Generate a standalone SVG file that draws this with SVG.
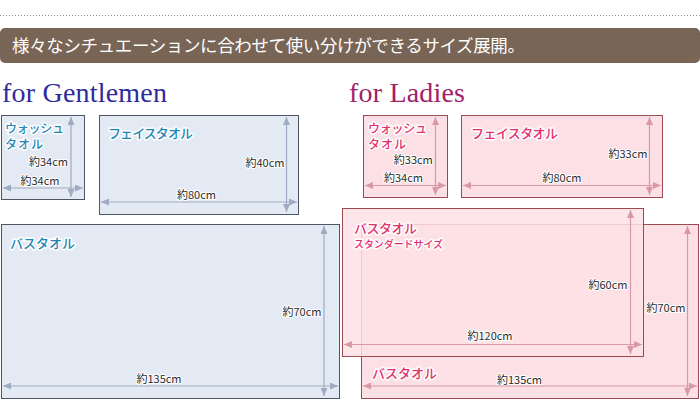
<svg xmlns="http://www.w3.org/2000/svg" width="700" height="400" viewBox="0 0 700 400">
<defs>
<style>
.banner-text{font-family:"Noto Sans CJK JP","Liberation Serif",serif;font-size:17.5px;fill:#ffffff}
.head{font-family:"Liberation Serif","DejaVu Serif",serif;font-size:28px}
.g-box{fill:#e4eaf3;stroke:#4d5566;stroke-width:1}
.l-box{fill:#fde0e5;stroke:#9c4a52;stroke-width:1}
.l-box-top{fill:#fde0e5;fill-opacity:0.85;stroke:#9c4a52;stroke-width:1}
.g-title{font-family:"Noto Sans CJK JP",sans-serif;font-size:13px;font-weight:500;fill:#1f86b3;stroke:#ffffff;stroke-width:3;stroke-linejoin:round;paint-order:stroke}
.l-title{font-family:"Noto Sans CJK JP",sans-serif;font-size:13px;font-weight:500;fill:#e2306f;stroke:#ffffff;stroke-width:3;stroke-linejoin:round;paint-order:stroke}
.small{font-size:12px}
.l-sub{font-size:10px}
.dim{font-family:"Noto Sans CJK JP",sans-serif;font-size:11px;fill:#2a2a2a;stroke:#ffffff;stroke-width:2;stroke-linejoin:round;paint-order:stroke;text-anchor:middle}
.g-arrow{stroke:#9eabc2;stroke-width:1.2;fill:none;marker-start:url(#ga);marker-end:url(#ga)}
.l-arrow{stroke:#d899a5;stroke-width:1.2;fill:none;marker-start:url(#la);marker-end:url(#la)}
</style>
<marker id="ga" markerUnits="userSpaceOnUse" markerWidth="8" markerHeight="7" refX="8" refY="3.5" orient="auto-start-reverse"><path d="M0,0 L8,3.5 L0,7 z" fill="#9eabc2"/></marker>
<marker id="la" markerUnits="userSpaceOnUse" markerWidth="8" markerHeight="7" refX="8" refY="3.5" orient="auto-start-reverse"><path d="M0,0 L8,3.5 L0,7 z" fill="#d899a5"/></marker>
</defs>

<rect width="700" height="400" fill="#ffffff"/>

<g id="header">
<line x1="0" y1="15.5" x2="700" y2="15.5" stroke="#9a8a7c" stroke-width="1" stroke-dasharray="1 2"/>
<rect x="0" y="28" width="700" height="35" rx="5" ry="5" fill="#786556"/>
<text class="banner-text" x="12" y="52" textLength="513">様々なシチュエーションに合わせて使い分けができるサイズ展開。</text>
<text class="head" x="2" y="102" fill="#2e2a9c" textLength="165">for Gentlemen</text>
<text class="head" x="349" y="102" fill="#a0216a" textLength="116">for Ladies</text>
</g>

<g id="g-wash">
<rect class="g-box" x="1.5" y="115.5" width="83" height="84"/>
<text class="g-title small" x="5" y="133" textLength="59">ウォッシュ</text>
<text class="g-title small" x="5" y="148.5" textLength="38">タオル</text>
<text class="dim" x="48.5" y="165.5">約34cm</text>
<text class="dim" x="40" y="184.5">約34cm</text>
</g>

<g id="g-face">
<rect class="g-box" x="99.5" y="115.5" width="199" height="99"/>
<text class="g-title" x="108" y="137.5" textLength="85">フェイスタオル</text>
<text class="dim" x="265" y="167">約40cm</text>
<text class="dim" x="196.5" y="199">約80cm</text>
</g>

<g id="g-bath">
<rect class="g-box" x="1.5" y="224.5" width="338" height="174"/>
<text class="g-title" x="10" y="247.5" textLength="65">バスタオル</text>
<text class="dim" x="302" y="315.5">約70cm</text>
<text class="dim" x="159" y="383">約135cm</text>
</g>

<g id="l-wash">
<rect class="l-box" x="363.5" y="115.5" width="84" height="82"/>
<text class="l-title small" x="368" y="133" textLength="59">ウォッシュ</text>
<text class="l-title small" x="368" y="148.5" textLength="38">タオル</text>
<text class="dim" x="413.3" y="164">約33cm</text>
<text class="dim" x="403.5" y="182">約34cm</text>
</g>

<g id="l-face">
<rect class="l-box" x="461.5" y="115.5" width="201" height="82"/>
<text class="l-title" x="471" y="137.5" textLength="87">フェイスタオル</text>
<text class="dim" x="628" y="158">約33cm</text>
<text class="dim" x="562" y="182">約80cm</text>
</g>

<g id="l-bath-large">
<rect class="l-box" x="361.5" y="224.5" width="337" height="174"/>
<text class="l-title" x="372" y="377.5" textLength="65">バスタオル</text>
<text class="dim" x="666" y="312">約70cm</text>
<text class="dim" x="519.5" y="384">約135cm</text>
</g>

<g id="l-bath-standard">
<rect class="l-box-top" x="342.5" y="208.5" width="301" height="148"/>
<text class="l-title" x="354" y="232.5" textLength="63">バスタオル</text>
<text class="l-title l-sub" x="354" y="248" textLength="89">スタンダードサイズ</text>
<text class="dim" x="608" y="289">約60cm</text>
<text class="dim" x="490" y="340">約120cm</text>
</g>

<g id="connectors">
<line class="g-arrow" x1="71" y1="117" x2="71" y2="197"/>
<line class="g-arrow" x1="3" y1="188" x2="83" y2="188"/>
<line class="g-arrow" x1="286.5" y1="117" x2="286.5" y2="212"/>
<line class="g-arrow" x1="101" y1="202" x2="297" y2="202"/>
<line class="g-arrow" x1="324" y1="226" x2="324" y2="396"/>
<line class="g-arrow" x1="3" y1="386" x2="338" y2="386"/>
<line class="l-arrow" x1="435.5" y1="117" x2="435.5" y2="195"/>
<line class="l-arrow" x1="365" y1="185.5" x2="446" y2="185.5"/>
<line class="l-arrow" x1="649.5" y1="117" x2="649.5" y2="195"/>
<line class="l-arrow" x1="463" y1="185.5" x2="661" y2="185.5"/>
<line class="l-arrow" x1="687.5" y1="226" x2="687.5" y2="396"/>
<line class="l-arrow" x1="363" y1="386" x2="697" y2="386"/>
<line class="l-arrow" x1="630.5" y1="210" x2="630.5" y2="354"/>
<line class="l-arrow" x1="344" y1="344.5" x2="642" y2="344.5"/>
</g>
</svg>
